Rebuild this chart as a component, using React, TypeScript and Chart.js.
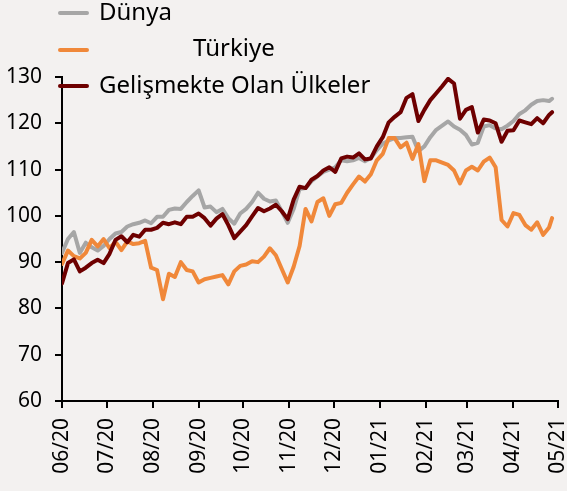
import { useEffect, useRef } from "react";
import { Chart, registerables } from "chart.js";

Chart.register(...registerables);

// Days since 2020-06-01
const dayOffsets = [
  0, 4, 8, 12, 16, 20, 24, 28, 32, 36, 40, 44, 48, 52, 56, 60, 64, 68, 72, 76,
  80, 84, 88, 92, 96, 100, 104, 108, 112, 116, 120, 124, 128, 132, 136, 140, 144, 148, 152, 156,
  160, 164, 168, 172, 176, 180, 184, 188, 192, 196, 200, 204, 208, 212, 216, 220, 224, 228, 232, 236,
  240, 244, 248, 252, 256, 260, 264, 268, 272, 276, 280, 284, 288, 292, 296, 300, 304, 308, 312, 316,
  320, 324, 328, 330,
];

const monthTickDays = [0, 30, 61, 92, 122, 153, 183, 214, 245, 273, 304, 334];
const monthLabels = ["06/20", "07/20", "08/20", "09/20", "10/20", "11/20", "12/20", "01/21", "02/21", "03/21", "04/21", "05/21"];

const dunya = [
  92.0, 95.0, 96.5, 92.0, 94.2, 93.2, 92.5, 93.5, 95.0, 96.2,
  96.5, 97.7, 98.2, 98.5, 99.0, 98.4, 99.8, 99.8, 101.3, 101.6,
  101.5, 103.0, 104.3, 105.5, 101.8, 102.0, 100.8, 101.5, 99.5, 98.3,
  100.5, 101.5, 103.0, 105.0, 103.7, 103.1, 103.3, 101.0, 98.5, 101.5,
  105.8, 106.0, 107.5, 108.5, 109.5, 110.0, 110.5, 112.0, 111.8, 112.0,
  112.5, 111.8, 112.5, 114.2, 115.6, 116.3, 116.8, 116.8, 117.0, 117.1,
  114.0, 115.0, 117.0, 118.6, 119.5, 120.4, 119.3, 118.6, 117.5, 115.4,
  115.8, 119.3, 119.6, 118.9, 118.7, 119.5, 120.5, 122.0, 122.8, 124.0,
  124.8, 125.0, 124.8, 125.3,
];

const turkiye = [
  89.6, 92.5, 91.3, 90.8, 92.0, 94.8, 93.4, 95.0, 93.0, 94.4,
  92.6, 94.5, 93.9, 94.1, 94.6, 88.8, 88.3, 82.0, 87.5, 86.8,
  90.0, 88.3, 88.0, 85.6, 86.3, 86.6, 86.9, 87.2, 85.2, 88.0,
  89.2, 89.5, 90.2, 90.0, 91.2, 93.0, 91.5, 88.5, 85.6, 89.0,
  93.5, 101.5, 98.8, 103.0, 103.8, 100.0, 102.5, 102.8, 105.0, 106.8,
  108.5, 107.4, 109.0, 112.0, 113.4, 116.8, 116.8, 114.8, 115.8, 112.3,
  115.5, 107.5, 112.0, 112.0, 111.5, 111.0, 109.8, 107.0, 109.8, 110.6,
  109.8, 111.7, 112.6, 110.5, 99.1, 97.7, 100.6, 100.2, 98.0, 97.0,
  98.6, 95.9, 97.5, 99.5,
];

const gelismekte = [
  85.4, 89.8, 90.6, 88.0, 88.8, 89.8, 90.5, 89.8, 91.8, 94.8,
  95.6, 94.3, 95.9, 95.5, 97.0, 97.0, 97.4, 98.5, 98.2, 98.6,
  98.2, 99.8, 99.8, 100.5, 99.5, 97.9, 99.4, 100.4, 98.0, 95.2,
  96.6, 98.0, 99.9, 101.7, 101.0, 101.6, 102.4, 101.0, 99.3, 103.5,
  106.3, 106.0, 107.8, 108.6, 109.8, 110.5, 109.5, 112.4, 112.8, 112.6,
  113.5, 112.2, 112.4, 115.0, 117.0, 120.2, 121.4, 122.4, 125.5, 126.3,
  120.5, 122.9, 125.0, 126.5, 128.0, 129.6, 128.6, 121.0, 122.9, 123.5,
  118.0, 120.8, 120.6, 120.0, 116.0, 118.4, 118.5, 120.6, 120.2, 119.8,
  121.1, 120.0, 121.8, 122.4,
];

const seriesNames = ["Dünya", "Türkiye", "Gelişmekte Olan Ülkeler"];
const seriesColors = ["#a6a6a6", "#f0883a", "#6e0000"];

const FONT = "'Noto Sans', 'Liberation Sans', sans-serif";

export default function App() {
  const canvasRef = useRef<HTMLCanvasElement | null>(null);

  useEffect(() => {
    const canvas = canvasRef.current;
    if (!canvas) return;
    const toPoints = (vals: number[]) => dayOffsets.map((d, i) => ({ x: d, y: vals[i] }));
    const lineDs = (idx: number, vals: number[]) => ({
      label: seriesNames[idx],
      data: toPoints(vals),
      borderColor: seriesColors[idx],
      backgroundColor: seriesColors[idx],
      borderWidth: 4,
      pointRadius: 0,
      tension: 0,
      borderJoinStyle: "round" as const,
      borderCapStyle: "round" as const,
      fill: false,
    });
    const chart = new Chart(canvas, {
      type: "line",
      data: {
        // index 0 is drawn on top
        datasets: [lineDs(2, gelismekte), lineDs(1, turkiye), lineDs(0, dunya)],
      },
      options: {
        responsive: false,
        animation: false,
        devicePixelRatio: 1,
        layout: { padding: { left: 0, right: 9, top: 77, bottom: 0 } },
        plugins: {
          legend: { display: false },
          tooltip: { enabled: false },
        },
        scales: {
          x: {
            type: "linear",
            min: 0,
            max: 334,
            afterBuildTicks: (s: any) => {
              s.ticks = monthTickDays.map((v) => ({ value: v }));
            },
            afterFit: (s: any) => {
              s.height = 90;
              s.paddingLeft = 0;
              s.paddingRight = 0;
            },
            ticks: {
              autoSkip: false,
              maxRotation: 90,
              minRotation: 90,
              padding: 10,
              color: "#000",
              font: { family: FONT, size: 21 },
              callback: (v: any) => {
                const i = monthTickDays.indexOf(Number(v));
                return i >= 0 ? monthLabels[i] : "";
              },
            },
            grid: {
              display: true,
              drawOnChartArea: false,
              drawTicks: true,
              tickLength: 7,
              color: "#000",
              lineWidth: 2,
            },
            border: { display: true, color: "#000", width: 2 },
          },
          y: {
            min: 60,
            max: 130,
            afterFit: (s: any) => {
              s.width = 62;
            },
            ticks: {
              stepSize: 10,
              padding: 13,
              color: "#000",
              font: { family: FONT, size: 21 },
            },
            grid: {
              display: true,
              drawOnChartArea: false,
              drawTicks: true,
              tickLength: 7,
              color: "#000",
              lineWidth: 2,
            },
            border: { display: true, color: "#000", width: 2 },
          },
        },
      },
    });
    return () => chart.destroy();
  }, []);

  const legendRows = [
    { idx: 0, lineY: 13, baseline: 20.5, textX: 99 },
    { idx: 1, lineY: 49.5, baseline: 56.5, textX: 193 },
    { idx: 2, lineY: 86, baseline: 93.3, textX: 99 },
  ];

  return (
    <div
      style={{
        position: "fixed",
        left: 0,
        top: 0,
        width: 567,
        height: 491,
        background: "#f3f1f0",
        overflow: "hidden",
      }}
    >
      <canvas ref={canvasRef} width={567} height={491} style={{ display: "block", width: 567, height: 491 }} />
      {legendRows.map((r) => (
        <div key={r.idx}>
          <div
            style={{
              position: "absolute",
              left: 58,
              top: r.lineY - 2,
              width: 31,
              height: 4,
              borderRadius: 2,
              background: seriesColors[r.idx],
            }}
          />
          <div
            style={{
              position: "absolute",
              left: r.textX,
              top: r.baseline - 21.3,
              fontFamily: FONT,
              fontSize: 24,
              lineHeight: "24px",
              color: "#000",
              whiteSpace: "nowrap",
            }}
          >
            {seriesNames[r.idx]}
          </div>
        </div>
      ))}
    </div>
  );
}
